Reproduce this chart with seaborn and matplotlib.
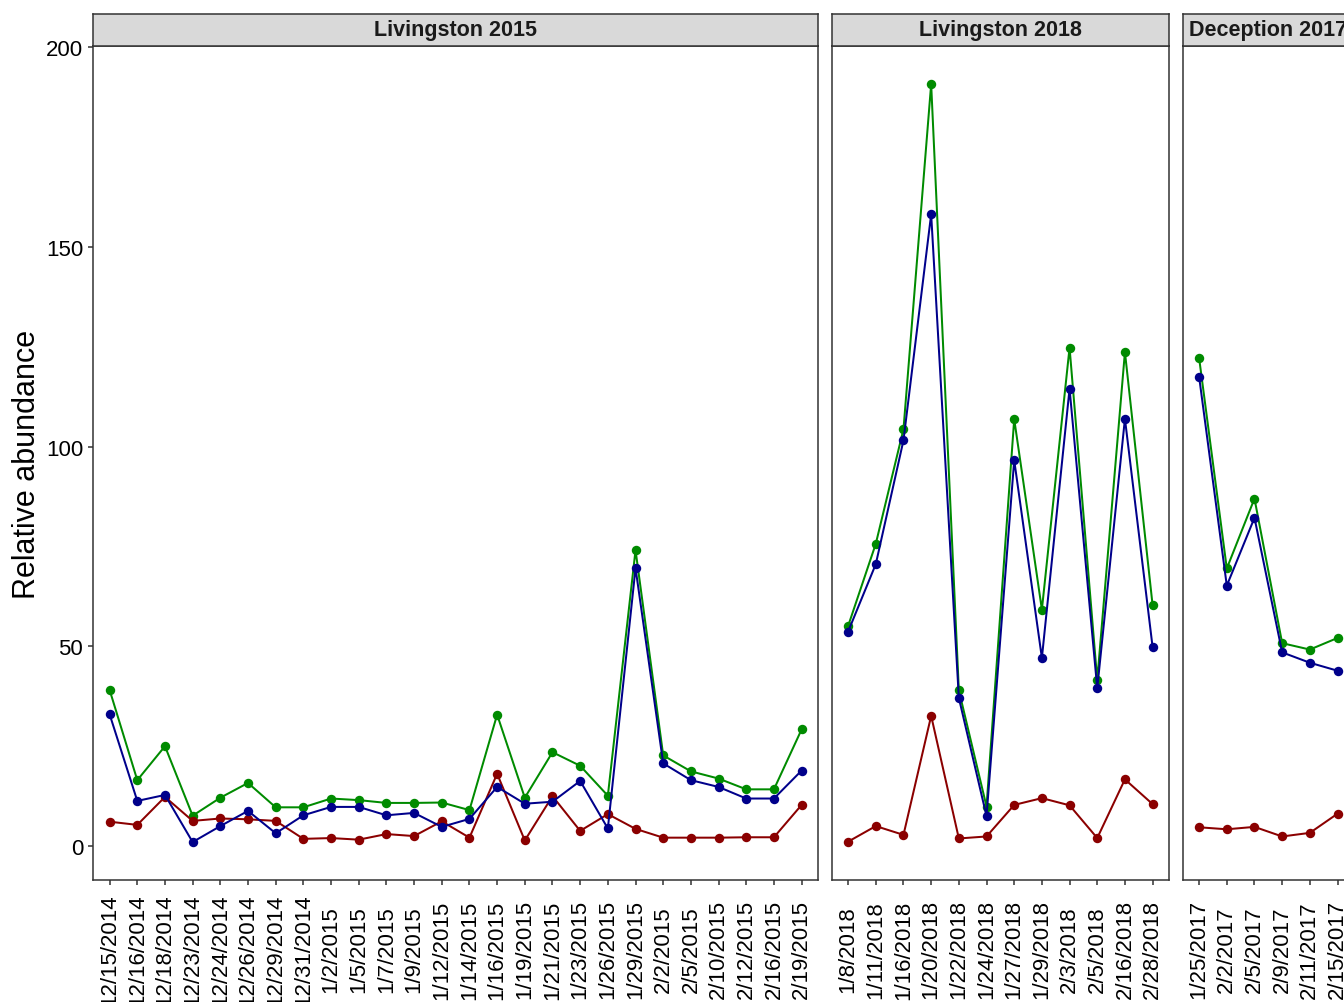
import matplotlib
matplotlib.use("Agg")
import matplotlib.pyplot as plt
import pandas as pd
import seaborn as sns

# ---- data -------------------------------------------------------------
liv15_dates = ["12/15/2014", "12/16/2014", "12/18/2014", "12/23/2014", "12/24/2014",
               "12/26/2014", "12/29/2014", "12/31/2014", "1/2/2015", "1/5/2015",
               "1/7/2015", "1/9/2015", "1/12/2015", "1/14/2015", "1/16/2015",
               "1/19/2015", "1/21/2015", "1/23/2015", "1/26/2015", "1/29/2015",
               "2/2/2015", "2/5/2015", "2/10/2015", "2/12/2015", "2/16/2015", "2/19/2015"]
liv15_total = [39.1, 16.5, 25.0, 7.6, 12.1, 15.8, 9.7, 9.7, 11.9, 11.5, 10.8, 10.8, 10.9,
               9.0, 32.9, 12.1, 23.5, 20.1, 12.6, 74.1, 22.7, 18.7, 16.9, 14.2, 14.2, 29.2]
liv15_a = [33.0, 11.3, 12.8, 1.0, 5.0, 8.8, 3.2, 7.7, 9.8, 9.8, 7.7, 8.3, 4.8,
           6.8, 14.8, 10.6, 11.1, 16.3, 4.4, 69.6, 20.7, 16.5, 14.8, 11.9, 11.9, 18.9]
liv15_b = [6.1, 5.3, 12.3, 6.3, 6.9, 6.7, 6.3, 1.8, 2.0, 1.6, 3.0, 2.5, 6.2,
           2.1, 18.1, 1.4, 12.5, 3.8, 8.0, 4.3, 2.1, 2.1, 2.1, 2.2, 2.2, 10.3]

liv18_dates = ["1/8/2018", "1/11/2018", "1/16/2018", "1/20/2018", "1/22/2018", "1/24/2018",
               "1/27/2018", "1/29/2018", "2/3/2018", "2/5/2018", "2/16/2018", "2/28/2018"]
liv18_total = [55.1, 75.7, 104.4, 190.8, 39.0, 9.9, 106.9, 59.2, 124.8, 41.6, 123.7, 60.3]
liv18_a = [53.7, 70.6, 101.6, 158.2, 37.1, 7.5, 96.6, 47.1, 114.5, 39.5, 107.0, 49.8]
liv18_b = [1.1, 5.0, 2.8, 32.6, 1.9, 2.4, 10.3, 12.0, 10.2, 2.0, 16.7, 10.5]

dec17_dates = ["1/25/2017", "2/2/2017", "2/5/2017", "2/9/2017", "2/11/2017", "2/15/2017"]
dec17_total = [122.2, 69.5, 87.0, 50.8, 49.2, 52.1]
dec17_a = [117.5, 65.2, 82.2, 48.5, 45.9, 43.9]
dec17_b = [4.7, 4.2, 4.8, 2.4, 3.3, 8.1]

panel_titles = ["Livingston 2015", "Livingston 2018", "Deception 2017"]
series_names = ["total", "series_b", "series_a"]
series_colors = ["#008B00", "#8B0000", "#00008B"]

panels = [
    (panel_titles[0], liv15_dates, liv15_total, liv15_a, liv15_b),
    (panel_titles[1], liv18_dates, liv18_total, liv18_a, liv18_b),
    (panel_titles[2], dec17_dates, dec17_total, dec17_a, dec17_b),
]

# ---- style ------------------------------------------------------------
sns.set_style("white")
plt.rcParams["font.family"] = ["Liberation Sans", "DejaVu Sans"]

W, H = 1344, 1003
fig = plt.figure(figsize=(W / 100, H / 100), dpi=100)

step = 27.68          # pixels per category, shared by all facets
gap = 13.3
left0 = 93.0
top_px, bottom_px = 46.7, 881.0
strip_h = 31.7
edge = "#333333"

x_left = left0
for i, (title, dates, total, a, b) in enumerate(panels):
    n = len(dates)
    width = (n + 0.2) * step
    ax = fig.add_axes([x_left / W, (H - bottom_px) / H, width / W, (bottom_px - top_px) / H])

    df = pd.DataFrame({
        "date": dates * 3,
        "value": list(total) + list(b) + list(a),
        "series": ["total"] * n + ["series_b"] * n + ["series_a"] * n,
    })
    sns.pointplot(data=df, x="date", y="value", hue="series", order=dates,
                  hue_order=series_names, palette=series_colors, markers="o",
                  linestyles="-", errorbar=None, legend=False, ax=ax,
                  markersize=6.8, linewidth=1.45, markeredgewidth=0)

    ax.set_xlim(-0.6, n - 0.4)
    ax.set_ylim(-8.5, 200.4)
    ax.set_xlabel("")
    ax.set_ylabel("")
    ax.set_xticks(range(n))
    ax.set_xticklabels(dates, rotation=90, va="center", ha="center",
                       fontsize=16, color="black")
    ax.tick_params(axis="x", direction="out", length=3.6, width=1.1, color=edge,
                   pad=46, bottom=True)
    if i == 0:
        ax.set_yticks([0, 50, 100, 150, 200])
        ax.tick_params(axis="y", direction="out", length=3.6, width=1.1, color=edge,
                       pad=3.6, labelsize=16, labelcolor="black", left=True)
    else:
        ax.tick_params(axis="y", left=False, labelleft=False)
    for sp in ax.spines.values():
        sp.set_visible(True)
        sp.set_color(edge)
        sp.set_linewidth(1.1)

    # facet strip
    sax = fig.add_axes([x_left / W, (H - top_px) / H, width / W, strip_h / H])
    sax.set_facecolor("#D9D9D9")
    sax.set_xticks([])
    sax.set_yticks([])
    for sp in sax.spines.values():
        sp.set_color(edge)
        sp.set_linewidth(1.1)
    sax.text(0.5, 0.5, title, transform=sax.transAxes, ha="center", va="center",
             fontsize=15.5, fontweight="bold", color="#1A1A1A")

    x_left += width + gap

fig.text(27 / W, (H - 464) / H, "Relative abundance", rotation=90,
         ha="center", va="center", fontsize=22, color="black")

fig.savefig("out.png", dpi=100)
